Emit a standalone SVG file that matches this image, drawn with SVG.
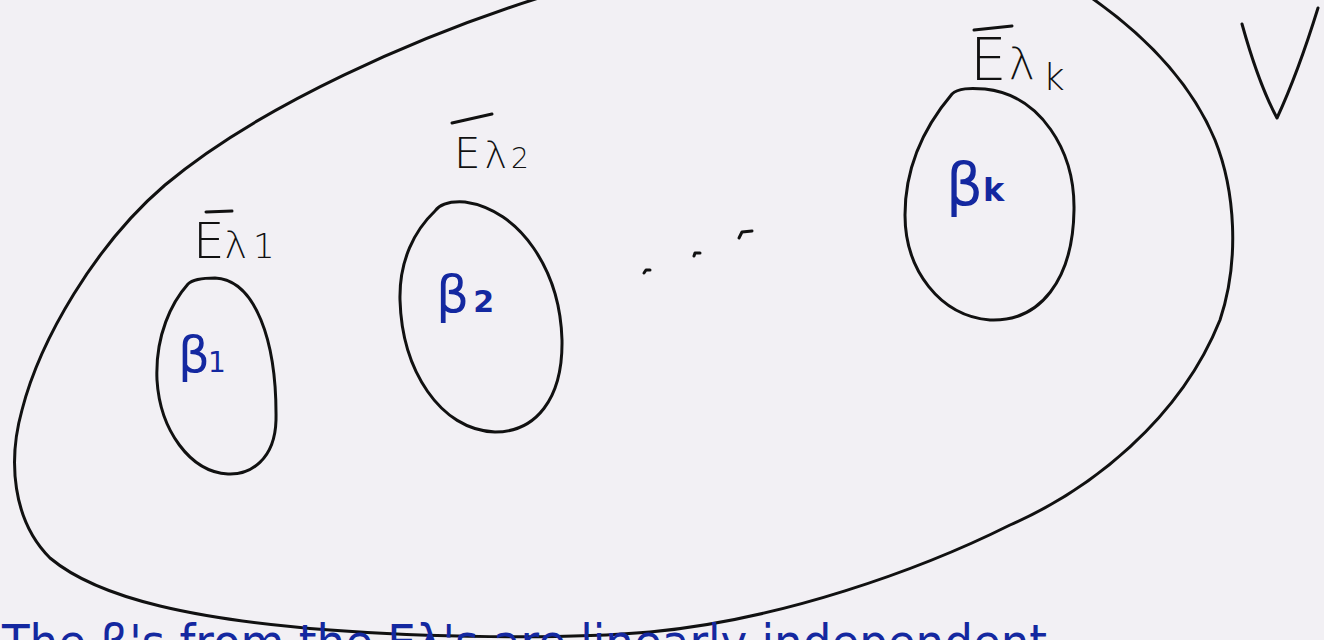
<svg xmlns="http://www.w3.org/2000/svg" width="1324" height="640" viewBox="0 0 1324 640">
<style>
.ink{fill:none;stroke:#111;stroke-width:3;stroke-linecap:round;stroke-linejoin:round}
.lbl{font-family:"DejaVu Sans","Liberation Sans",sans-serif;font-weight:300;fill:#111}
.blue{font-family:"DejaVu Sans","Liberation Sans",sans-serif;fill:#1428a0}
</style>
<rect width="1324" height="640" fill="#f2f0f4"/>
<g id="connectors"></g>
<g id="V-set">
<path class="ink" d="M 545 -4 C 420 35, 260 105, 165 185 C 95 245, 40 340, 22 410 C 8 460, 12 520, 50 558 C 100 600, 200 620, 330 630 C 420 637, 560 640, 650 632 C 780 620, 920 570, 1010 525 C 1090 490, 1180 420, 1220 320 C 1240 260, 1235 190, 1215 140 C 1190 80, 1140 30, 1080 -10"/>
<path class="ink" d="M 1242 24 C 1252 60, 1262 90, 1277 118 C 1290 90, 1305 50, 1318 8"/>
</g>
<g id="E1">
<path class="ink" d="M 188 284 C 192 280, 200 278, 215 278 C 255 280, 277 340, 276 420 C 275 460, 250 475, 228 474 C 190 472, 160 430, 157 380 C 155 335, 172 302, 188 284"/>
<line class="ink" x1="206" y1="212" x2="232" y2="211" stroke-width="2.5"/>
<text class="lbl" x="193" y="258" font-size="50">E<tspan font-size="38">λ</tspan><tspan font-size="34" dx="6">1</tspan></text>
<text class="blue" x="178" y="372" font-size="50">β<tspan font-size="28" dx="-2">1</tspan></text>
</g>
<g id="E2">
<path class="ink" d="M 435 211 C 440 204, 450 201, 465 202 C 520 210, 560 270, 562 340 C 563 400, 535 432, 495 432 C 440 430, 402 370, 400 300 C 399 260, 415 230, 435 211"/>
<line class="ink" x1="452" y1="123" x2="492" y2="114" stroke-width="2.5"/>
<text class="lbl" x="454" y="168" font-size="42">E<tspan font-size="38" dx="4">λ</tspan><tspan font-size="28" dx="4">2</tspan></text>
<text class="blue" x="436" y="312" font-size="52">β<tspan font-size="30" font-weight="bold" dx="4">2</tspan></text>
</g>
<g id="Ek">
<path class="ink" d="M 952 94 C 958 88, 970 88, 985 89 C 1040 95, 1075 150, 1074 210 C 1073 280, 1040 322, 990 320 C 940 316, 905 270, 905 215 C 905 160, 930 120, 952 94"/>
<line class="ink" x1="974" y1="30" x2="1012" y2="26" stroke-width="2.5"/>
<text class="lbl" x="970" y="80" font-size="58">E<tspan font-size="44" dx="2">λ</tspan><tspan font-size="38" dx="8" dy="10">k</tspan></text>
<text class="blue" x="946" y="205" font-size="58">β<tspan font-size="32" font-weight="bold" dx="0" dy="-4">k</tspan></text>
</g>
<g id="dots">
<path class="ink" d="M 644 273 L 646 270 L 650 270"/>
<path class="ink" d="M 694 256 L 695 253 L 700 253"/>
<path class="ink" d="M 739 238 L 742 232 L 752 231"/>
</g>
<g id="caption">
<text class="blue" x="2" y="660" font-size="50" textLength="1045" lengthAdjust="spacingAndGlyphs">The β's from the Eλ's are linearly independent</text>
</g>
</svg>
